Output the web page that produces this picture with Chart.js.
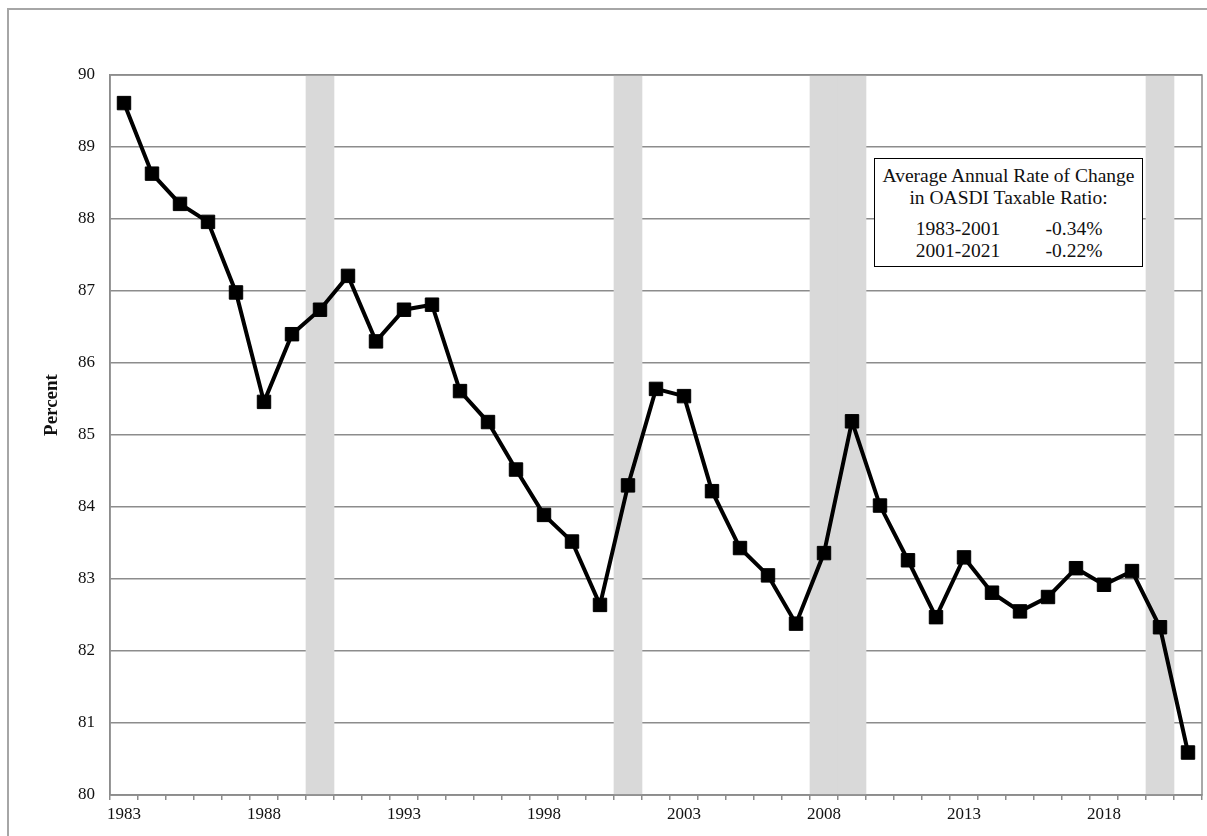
<!DOCTYPE html>
<html lang="en">
  <head>
    <meta charset="UTF-8" />
    <title>OASDI Taxable Ratio</title>
    <script src="https://cdn.jsdelivr.net/npm/chart.js"></script>
    <style>
      body { margin: 0; overflow: hidden; background: #fff; }
      #wrap { position: relative; width: 1207px; height: 836px; overflow: hidden; }
      #frame { position: absolute; left: 7px; top: 8px; width: 1400px; height: 1000px; border: 2px solid #a6a6a6; }
      #note {
        position: absolute; left: 874px; top: 158px; width: 269px; height: 109px;
        box-sizing: border-box; border: 1.5px solid #000; background: #fff;
        font-family: "Liberation Serif", "Times New Roman", serif; font-size: 19.5px; color: #111;
      }
      #note .row { position: absolute; left: 0; width: 100%; text-align: center; line-height: 22px; white-space: nowrap; }
      #note .col { position: absolute; width: 110px; text-align: center; line-height: 22px; }
    </style>
  </head>
  <body>
    <div id="wrap">
      <div id="frame"></div>
      <canvas id="ratioChart" width="1207" height="836"></canvas>
      <div id="note">
        <div class="row" style="top:6px">Average Annual Rate of Change</div>
        <div class="row" style="top:28px">in OASDI Taxable Ratio:</div>
        <div class="col" style="top:59px;left:28px">1983-2001</div>
        <div class="col" style="top:59px;left:144px">-0.34%</div>
        <div class="col" style="top:81px;left:28px">2001-2021</div>
        <div class="col" style="top:81px;left:144px">-0.22%</div>
      </div>
    </div>
    <script>
      const years = [
        "1983", "1984", "1985", "1986", "1987", "1988", "1989", "1990", "1991", "1992",
        "1993", "1994", "1995", "1996", "1997", "1998", "1999", "2000", "2001", "2002",
        "2003", "2004", "2005", "2006", "2007", "2008", "2009", "2010", "2011", "2012",
        "2013", "2014", "2015", "2016", "2017", "2018", "2019", "2020", "2021",
      ];
      const taxableRatio = [
        89.61, 88.63, 88.21, 87.96, 86.98, 85.46, 86.40, 86.74, 87.21, 86.30,
        86.74, 86.81, 85.61, 85.18, 84.52, 83.89, 83.52, 82.64, 84.30, 85.64,
        85.54, 84.22, 83.43, 83.05, 82.38, 83.36, 85.19, 84.02, 83.26, 82.47,
        83.30, 82.81, 82.55, 82.75, 83.15, 82.92, 83.11, 82.33, 80.59,
      ];
      const recessionYears = ["1990", "2001", "2008", "2009", "2020"];
      const xTickLabels = ["1983", "1988", "1993", "1998", "2003", "2008", "2013", "2018"];
      const yMin = 80;
      const yMax = 90;

      const serif = '"Liberation Serif", "Times New Roman", serif';
      const gridGray = "#8c8c8c";

      // shaded recession years as full-height bars
      const recessionBars = years.map((y) => (recessionYears.includes(y) ? yMax : null));

      const plotFrame = {
        id: "plotFrame",
        afterDatasetsDraw(chart) {
          const { ctx, chartArea: a } = chart;
          ctx.save();
          ctx.strokeStyle = gridGray;
          ctx.lineWidth = 1.5;
          ctx.strokeRect(a.left, a.top, a.right - a.left, a.bottom - a.top);
          ctx.restore();
        },
        afterDraw(chart) {
          const ctx = chart.ctx;
          ctx.save();
          ctx.translate(52, 405);
          ctx.rotate(-Math.PI / 2);
          ctx.font = "bold 19px " + serif;
          ctx.fillStyle = "#111";
          ctx.textAlign = "center";
          ctx.textBaseline = "middle";
          ctx.fillText("Percent", 0, 0);
          ctx.restore();
        },
      };

      const ctx = document.getElementById("ratioChart").getContext("2d");
      new Chart(ctx, {
        type: "bar",
        data: {
          labels: years,
          datasets: [
            {
              type: "line",
              label: "Taxable Ratio",
              data: taxableRatio,
              borderColor: "#000",
              borderWidth: 4,
              pointStyle: "rect",
              pointRadius: 9.5,
              pointBackgroundColor: "#000",
              pointBorderColor: "#000",
              pointBorderWidth: 1,
              tension: 0,
              order: 0,
            },
            {
              type: "bar",
              label: "Recession",
              data: recessionBars,
              base: yMin,
              backgroundColor: "#d9d9d9",
              barPercentage: 1,
              categoryPercentage: 1,
              order: 1,
            },
          ],
        },
        options: {
          responsive: false,
          animation: false,
          devicePixelRatio: 1,
          layout: { autoPadding: false, padding: { top: 75, left: 0, right: 5, bottom: 0 } },
          plugins: {
            legend: { display: false },
            tooltip: { enabled: false },
          },
          scales: {
            x: {
              offset: true,
              grid: {
                offset: true,
                drawOnChartArea: false,
                drawTicks: true,
                tickLength: 5,
                color: gridGray,
                lineWidth: 1.5,
              },
              border: { display: true, color: gridGray, width: 1.5 },
              ticks: {
                autoSkip: false,
                maxRotation: 0,
                padding: 4,
                color: "#111",
                font: { family: serif, size: 17 },
                callback: function (value) {
                  const label = this.getLabelForValue(value);
                  return xTickLabels.includes(label) ? label : "";
                },
              },
              afterFit: (scale) => {
                scale.height = 41;
              },
            },
            y: {
              min: yMin,
              max: yMax,
              grid: { color: gridGray, lineWidth: 1.5, drawTicks: false },
              border: { display: true, color: gridGray, width: 1.5 },
              ticks: {
                stepSize: 1,
                padding: 15,
                color: "#111",
                font: { family: serif, size: 17 },
              },
              afterFit: (scale) => {
                scale.width = 110;
              },
            },
          },
        },
        plugins: [plotFrame],
      });
    </script>
  </body>
</html>
